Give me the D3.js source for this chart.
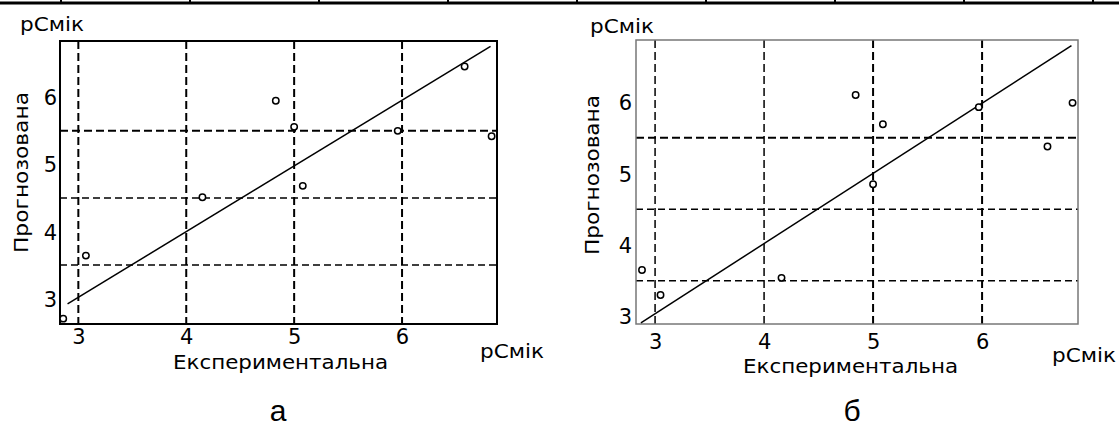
<!DOCTYPE html>
<html>
<head>
<meta charset="utf-8">
<script src="https://cdn.jsdelivr.net/npm/d3@7"></script>
<style>
  body { margin: 0; background: #fff; }
  svg { display: block; font-family: "DejaVu Sans", sans-serif; }
</style>
</head>
<body>
<svg id="chart" width="1119" height="428"></svg>
<script>
// Data
const ticks = [3, 4, 5, 6];
const gridY = [3.5, 4.5, 5.5];

const expA = [2.86, 3.07, 4.15, 4.83, 5.0, 5.08, 5.96, 6.58, 6.83];
const predA = [2.70, 3.64, 4.51, 5.95, 5.56, 4.68, 5.50, 6.46, 5.42];
const fitA = [[2.9, 2.92], [6.82, 6.76]];

const expB = [2.88, 3.05, 4.16, 4.84, 5.0, 5.09, 5.97, 6.6, 6.83];
const predB = [3.65, 3.30, 3.54, 6.10, 4.85, 5.69, 5.93, 5.38, 5.99];
const fitB = [[2.87, 2.91], [6.82, 6.79]];

const unit = "pCмік";
const xTitle = "Експериментальна";
const yTitle = "Прогнозована";
const panelLabels = ["а", "б"];
const tableCols = [61, 190, 319, 448, 577, 706, 835, 964, 1093];

const svg = d3.select("#chart");

// table border on top
svg.append("line").attr("x1", 0).attr("x2", 1119).attr("y1", 3).attr("y2", 3)
  .attr("stroke", "#000").attr("stroke-width", 3);
svg.selectAll(".col").data(tableCols).enter().append("line")
  .attr("x1", d => d).attr("x2", d => d).attr("y1", 0).attr("y2", 3)
  .attr("stroke", "#000").attr("stroke-width", 2);

const panels = [
  { exp: expA, pred: predA, fit: fitA, xDom: [2.83, 6.88], yDom: [2.62, 6.84],
    left: 60, right: 497, top: 41, bottom: 324, frame: "#000", frameW: 2,
    vW: [2, 2, 2, 2], hW: [1.5, 1.5, 2],
    topUnit: [20, 31], botUnit: [480, 358], yT: [28, 92, 253], xT: [173, 388, 369],
    yTickX: 57, xTickY: 344, label: [278, 421] },
  { exp: expB, pred: predB, fit: fitB, xDom: [2.825, 6.88], yDom: [2.894, 6.87],
    left: 636, right: 1078, top: 40, bottom: 324, frame: "#777", frameW: 1.5,
    vW: [1.5, 1.5, 2, 2], hW: [1.5, 1.5, 2],
    topUnit: [590, 33], botUnit: [1052, 362], yT: [599, 95, 255], xT: [743, 958, 373],
    yTickX: 632, xTickY: 349, label: [852, 421] }
];

panels.forEach((p, i) => {
  const x = d3.scaleLinear().domain(p.xDom).range([p.left, p.right]);
  const y = d3.scaleLinear().domain(p.yDom).range([p.bottom, p.top]);
  const g = svg.append("g");

  // dashed grid
  g.selectAll(".vg").data(ticks).enter().append("line")
    .attr("x1", d => x(d)).attr("x2", d => x(d))
    .attr("y1", p.top).attr("y2", p.bottom)
    .attr("stroke", "#000").attr("stroke-width", (d, k) => p.vW[k])
    .attr("stroke-dasharray", "8,4");
  g.selectAll(".hg").data(gridY).enter().append("line")
    .attr("x1", p.left).attr("x2", p.right)
    .attr("y1", d => y(d)).attr("y2", d => y(d))
    .attr("stroke", "#000").attr("stroke-width", (d, k) => p.hW[k])
    .attr("stroke-dasharray", (d, k) => k === 2 ? "8,4" : "7,4");

  // frame
  g.append("rect")
    .attr("x", p.left).attr("y", p.top)
    .attr("width", p.right - p.left).attr("height", p.bottom - p.top)
    .attr("fill", "none").attr("stroke", p.frame).attr("stroke-width", p.frameW);

  // fit line
  g.append("path").datum(p.fit)
    .attr("d", d3.line().x(d => x(d[0])).y(d => y(d[1])))
    .attr("fill", "none").attr("stroke", "#000").attr("stroke-width", 1.5);

  // points
  g.selectAll("circle").data(p.exp).enter().append("circle")
    .attr("cx", d => x(d)).attr("cy", (d, k) => y(p.pred[k]))
    .attr("r", 3.2).attr("fill", "#fff").attr("stroke", "#000").attr("stroke-width", 1.5);

  // axes (labels only)
  const ax = g.append("g").attr("transform", `translate(0,${p.xTickY - 16})`)
    .call(d3.axisBottom(x).tickValues(ticks).tickFormat(d3.format("d")).tickSize(0).tickPadding(0));
  ax.select(".domain").remove();
  ax.selectAll("text").attr("dy", null).attr("y", 16)
    .style("font-size", "21px").style("font-family", "DejaVu Sans").attr("fill", "#000");

  const ay = g.append("g").attr("transform", `translate(${p.yTickX},0)`)
    .call(d3.axisLeft(y).tickValues(ticks).tickFormat(d3.format("d")).tickSize(0).tickPadding(0));
  ay.select(".domain").remove();
  ay.selectAll("text").attr("dy", "0.36em").attr("x", 0)
    .style("font-size", "21px").style("font-family", "DejaVu Sans").attr("fill", "#000");

  // titles
  g.append("text").attr("x", p.topUnit[0]).attr("y", p.topUnit[1])
    .attr("textLength", 64).attr("lengthAdjust", "spacingAndGlyphs")
    .style("font-size", "19px").text(unit);
  g.append("text").attr("x", p.botUnit[0]).attr("y", p.botUnit[1])
    .attr("textLength", 64).attr("lengthAdjust", "spacingAndGlyphs")
    .style("font-size", "19px").text(unit);
  g.append("text").attr("x", p.xT[0]).attr("y", p.xT[2])
    .attr("textLength", p.xT[1] - p.xT[0]).attr("lengthAdjust", "spacingAndGlyphs")
    .style("font-size", "20px").text(xTitle);
  g.append("text")
    .attr("transform", `translate(${p.yT[0]},${p.yT[2]}) rotate(-90)`)
    .attr("textLength", p.yT[2] - p.yT[1]).attr("lengthAdjust", "spacingAndGlyphs")
    .style("font-size", "20px").text(yTitle);

  g.append("text").attr("x", p.label[0]).attr("y", p.label[1])
    .attr("text-anchor", "middle").style("font-family", "Liberation Sans, Arial")
    .style("font-size", "30px").text(panelLabels[i]);
});
</script>
</body>
</html>
